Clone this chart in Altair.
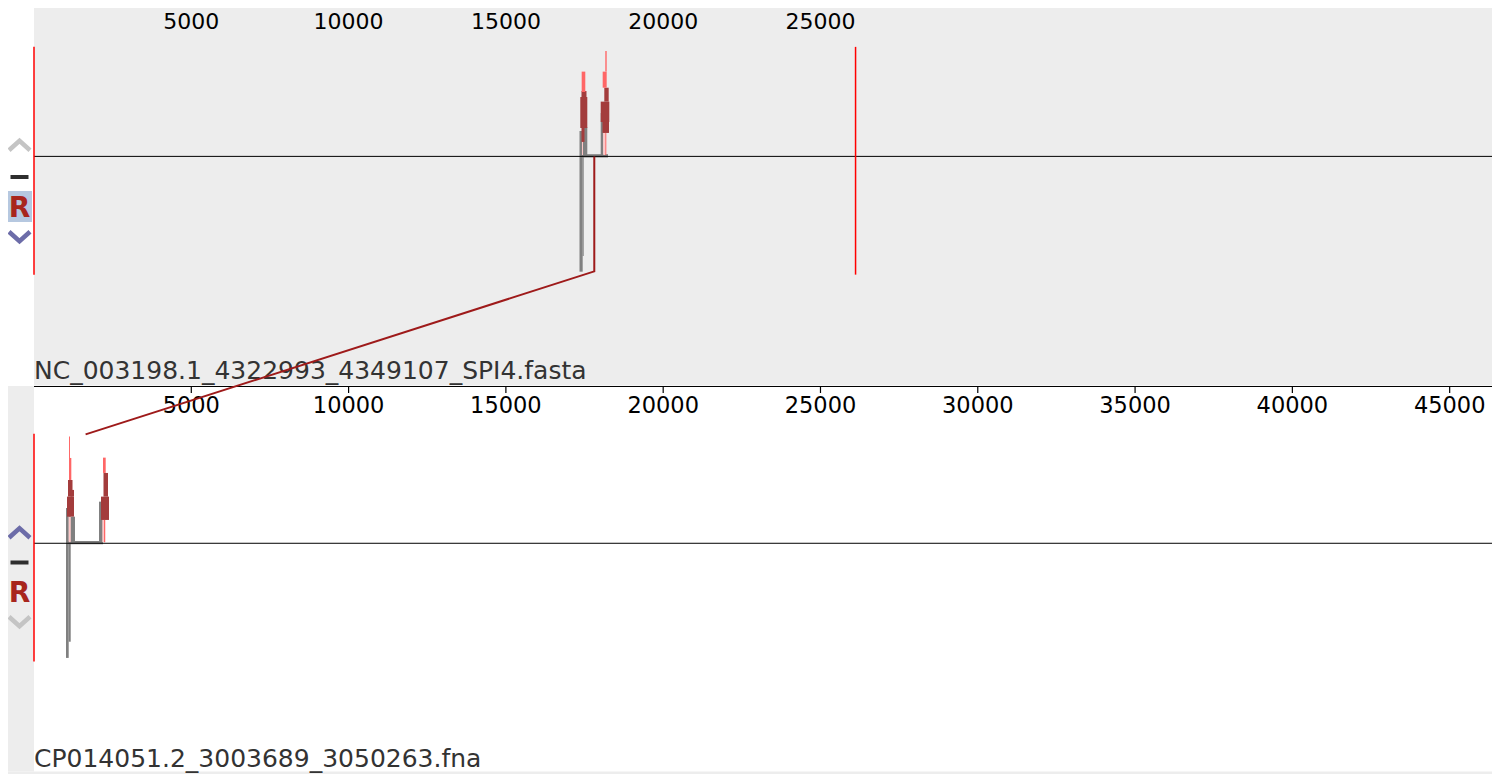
import altair as alt
import pandas as pd

# ---------------- data ----------------
TOP_NAME = "NC_003198.1_4322993_4349107_SPI4.fasta"
BOT_NAME = "CP014051.2_3003689_3050263.fna"
TOP_LEN = 26115
BOT_LEN = 46575
TOP_TICKS = [5000, 10000, 15000, 20000, 25000]
BOT_TICKS = [5000, 10000, 15000, 20000, 25000, 30000, 35000, 40000, 45000]

# similarity profile pieces (bp start, bp end, upper value, lower value), centre line = 0
TOP_KIND = ["grey"] * 5 + ["pink"] * 2 + ["dark"] * 6 + ["light"] * 4
TOP_START = [17340, 17441, 17451, 17356, 18014, 17419, 18096,
             17403, 17365, 17403, 18128, 18014, 18071,
             17409, 18077, 18160, 18160]
TOP_END = [17441, 17473, 17588, 18246, 18096, 17451, 18160,
           17562, 17588, 17498, 18268, 18287, 18277,
           17524, 18204, 18204, 18192]
TOP_HIGH = [0.232, 0.0, 0.268, 0.02, 0.396, 0.268, 0.316,
            0.597, 0.542, 0.259, 0.627, 0.5, 0.314,
            0.774, 0.774, 0.963, 0.214]
TOP_LOW = [-1.053, -0.91, 0.0, -0.01, 0.0, 0.013, 0.013,
           0.542, 0.259, 0.132, 0.5, 0.314, 0.214,
           0.588, 0.627, 0.774, 0.013]

BOT_KIND = ["grey"] * 5 + ["pink"] * 2 + ["dark"] * 5 + ["light"] * 4
BOT_START = [1017, 1103, 1167, 1058, 2066, 1103, 2171,
             1081, 1049, 1160, 2209, 2130,
             1113, 1144, 2193, 2225]
BOT_END = [1103, 1167, 1304, 2193, 2193, 1167, 2279,
           1224, 1271, 1271, 2352, 2384,
           1144, 1186, 2279, 2257]
BOT_HIGH = [0.322, 0.322, 0.243, 0.021, 0.38, 0.243, 0.395,
            0.578, 0.426, 0.487, 0.642, 0.426,
            0.974, 0.779, 0.782, 0.213]
BOT_LOW = [-1.047, -0.899, 0.01, -0.009, 0.0, 0.01, 0.01,
           0.426, 0.243, 0.426, 0.426, 0.213,
           0.578, 0.578, 0.642, 0.01]

# LCB connector (bp, value, genome)
CONN_BP = [17810, 17810, 1640]
CONN_V = [0.0, -1.05, 0.994]
CONN_TRACK = ["top", "top", "bottom"]

# ---------------- layout ----------------
W = 1466
H = 774
TRACK_OFFSET = {"top": 0.0, "bottom": -3.533}
X_DOMAIN = [0, 46600]
Y_DOMAIN = [-5.640, 1.428]
FONT = "DejaVu Sans"
BLOCK_HI, BLOCK_LO = 1.0, -1.08
ICON_X = -14.5

xs = alt.Scale(domain=X_DOMAIN, nice=False, zero=False)
ys = alt.Scale(domain=Y_DOMAIN, nice=False, zero=False)

one = pd.DataFrame({"k": [0]})

prof = pd.concat([
    pd.DataFrame({"kind": TOP_KIND, "start": TOP_START, "end": TOP_END,
                  "hi": [v + TRACK_OFFSET["top"] for v in TOP_HIGH],
                  "lo": [v + TRACK_OFFSET["top"] for v in TOP_LOW]}),
    pd.DataFrame({"kind": BOT_KIND, "start": BOT_START, "end": BOT_END,
                  "hi": [v + TRACK_OFFSET["bottom"] for v in BOT_HIGH],
                  "lo": [v + TRACK_OFFSET["bottom"] for v in BOT_LOW]}),
], ignore_index=True)

conn = pd.DataFrame({"bp": CONN_BP,
                     "y": [v + TRACK_OFFSET[t] for v, t in zip(CONN_V, CONN_TRACK)],
                     "o": list(range(len(CONN_BP)))})

bounds = pd.DataFrame({
    "bp": [0, TOP_LEN, 0, BOT_LEN],
    "hi": [BLOCK_HI + TRACK_OFFSET["top"]] * 2 + [BLOCK_HI + TRACK_OFFSET["bottom"]] * 2,
    "lo": [BLOCK_LO + TRACK_OFFSET["top"]] * 2 + [BLOCK_LO + TRACK_OFFSET["bottom"]] * 2,
})
centres = pd.DataFrame({"y": [TRACK_OFFSET["top"], TRACK_OFFSET["bottom"]]})

# ---------------- layers ----------------
bg_top = alt.Chart(one).mark_rect(color="#ededed").encode(
    x=alt.value(0), x2=alt.value(W), y=alt.value(0), y2=alt.value(385.5))
strip_bot = alt.Chart(one).mark_rect(color="#ededed").encode(
    x=alt.value(-40), x2=alt.value(0), y=alt.value(386), y2=alt.value(771.5))
band_bot = alt.Chart(one).mark_rect(color="#ededed").encode(
    x=alt.value(-40), x2=alt.value(W), y=alt.value(771.5), y2=alt.value(H))

# top ruler
top_axis = alt.Chart(pd.DataFrame({"a": [0], "b": [TOP_LEN]})).mark_rule(
    color="black", strokeWidth=1).encode(
    x=alt.X("a:Q", scale=xs, axis=None), x2="b:Q", y=alt.value(0.5))
top_ticks_df = pd.DataFrame({"t": TOP_TICKS})
top_ticks = alt.Chart(top_ticks_df).mark_rule(color="black", strokeWidth=1.2).encode(
    x=alt.X("t:Q", scale=xs, axis=None), y=alt.value(0), y2=alt.value(7))
top_labels = alt.Chart(top_ticks_df).mark_text(
    font=FONT, fontSize=22, align="center", baseline="alphabetic", color="black").encode(
    x=alt.X("t:Q", scale=xs, axis=None), y=alt.value(28.5), text=alt.Text("t:Q", format="d"))
top_cover = alt.Chart(pd.DataFrame({"a": [TOP_LEN]})).mark_rect(color="#ededed").encode(
    x=alt.X("a:Q", scale=xs, axis=None), x2=alt.value(W), y=alt.value(0), y2=alt.value(36))

# bottom ruler
bot_axis = alt.Chart(one).mark_rule(color="black", strokeWidth=1).encode(
    x=alt.value(0), x2=alt.value(W), y=alt.value(386.5))
bot_ticks_df = pd.DataFrame({"t": BOT_TICKS})
bot_ticks = alt.Chart(bot_ticks_df).mark_rule(color="black", strokeWidth=1.2).encode(
    x=alt.X("t:Q", scale=xs, axis=None), y=alt.value(386), y2=alt.value(393))
bot_labels = alt.Chart(bot_ticks_df).mark_text(
    font=FONT, fontSize=22.5, align="center", baseline="alphabetic", color="black").encode(
    x=alt.X("t:Q", scale=xs, axis=None), y=alt.value(413), text=alt.Text("t:Q", format="d"))

profile = alt.Chart(prof).mark_rect().encode(
    x=alt.X("start:Q", scale=xs, axis=None), x2="end:Q",
    y=alt.Y("hi:Q", scale=ys, axis=None), y2="lo:Q",
    color=alt.Color("kind:N", legend=None, scale=alt.Scale(
        domain=["grey", "pink", "dark", "light"],
        range=["#808080", "#ffc8c8", "#a33c3c", "#ff6666"])))

centre = alt.Chart(centres).mark_rule(color="black", strokeWidth=1).encode(
    y=alt.Y("y:Q", scale=ys, axis=None), x=alt.value(0), x2=alt.value(W))

red_bounds = alt.Chart(bounds).mark_rule(color="#ff0000", strokeWidth=1.5).encode(
    x=alt.X("bp:Q", scale=xs, axis=None),
    y=alt.Y("hi:Q", scale=ys, axis=None), y2="lo:Q")

names = pd.DataFrame({"name": [TOP_NAME, BOT_NAME]})
name_top = alt.Chart(names.iloc[[0]]).mark_text(
    font=FONT, fontSize=25, align="left", baseline="alphabetic", color="#333333").encode(
    x=alt.value(0), y=alt.value(379), text="name:N")
name_bot = alt.Chart(names.iloc[[1]]).mark_text(
    font=FONT, fontSize=25, align="left", baseline="alphabetic", color="#333333").encode(
    x=alt.value(0), y=alt.value(766.5), text="name:N")

connector = alt.Chart(conn).mark_line(color="#9e1a1a", strokeWidth=2).encode(
    x=alt.X("bp:Q", scale=xs, axis=None), y=alt.Y("y:Q", scale=ys, axis=None),
    order="o:Q")

# ---------------- side icons ----------------
UP = "M-1,0.45L0,-0.45L1,0.45"
DOWN = "M-1,-0.45L0,0.45L1,-0.45"


def chevron(path, ypix, col):
    return alt.Chart(one).mark_point(shape=path, filled=False, size=440,
                                     strokeWidth=4.5, color=col, opacity=1,
                                     strokeJoin="miter").encode(
        x=alt.value(ICON_X), y=alt.value(ypix))


def minus(ypix):
    return alt.Chart(one).mark_rule(color="#2e2e2e", strokeWidth=4).encode(
        x=alt.value(ICON_X - 9), x2=alt.value(ICON_X + 9), y=alt.value(ypix))


def rletter(ypix):
    return alt.Chart(one).mark_text(text="R", font=FONT, fontSize=28, fontWeight="bold",
                                    color="#a8261d", align="center",
                                    baseline="alphabetic").encode(
        x=alt.value(ICON_X), y=alt.value(ypix))


rbox = alt.Chart(one).mark_rect(color="#b6c8e0").encode(
    x=alt.value(ICON_X - 12.5), x2=alt.value(ICON_X + 12.5),
    y=alt.value(191), y2=alt.value(222))

icons = [
    chevron(UP, 145.5, "#c4c4c4"), minus(177), rbox, rletter(217),
    chevron(DOWN, 236.5, "#6c6ca8"),
    chevron(UP, 533, "#6c6ca8"), minus(562.5), rletter(602),
    chevron(DOWN, 621.5, "#c4c4c4"),
]

chart = alt.layer(
    bg_top, strip_bot, band_bot,
    top_axis, top_ticks, top_labels, top_cover,
    bot_axis, bot_ticks, bot_labels,
    profile, centre, red_bounds,
    name_top, name_bot,
    *icons,
    connector,
).properties(
    width=W, height=H,
    autosize="none",
    padding={"left": 26, "top": -8, "right": -8, "bottom": 0},
    background="white",
).configure_view(strokeWidth=0)

chart.save("out.html", embed_options={"renderer": "svg", "actions": False})
